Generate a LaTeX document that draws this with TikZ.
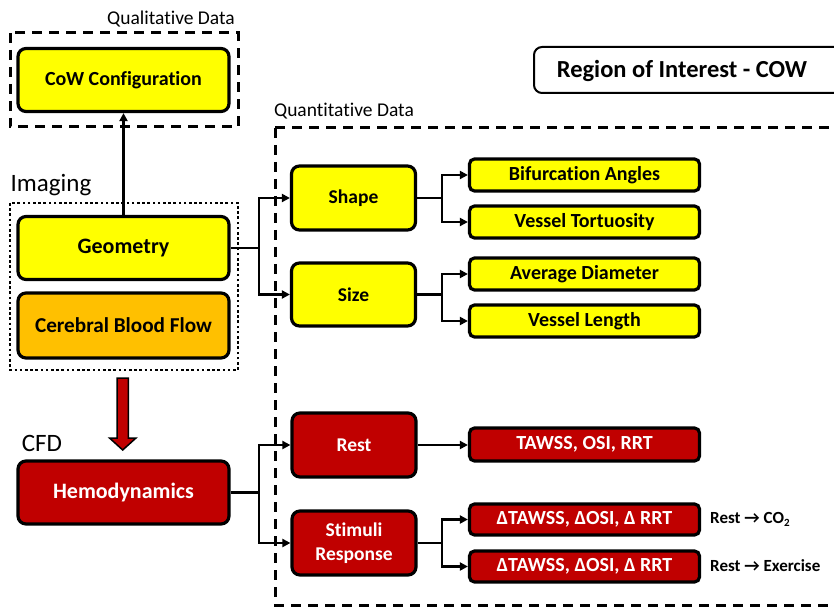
\documentclass[tikz,border=0pt]{standalone}
\usepackage{fontspec}
\setmainfont{Carlito}[Ligatures=NoCommon]
\usetikzlibrary{arrows.meta}
\definecolor{cyel}{HTML}{FFFF00}
\definecolor{corg}{HTML}{FFC000}
\definecolor{cred}{HTML}{C00000}
\newcommand{\fs}[1]{\fontsize{#1}{#1}\selectfont}
\begin{document}
\begin{tikzpicture}[x=1pt,y=-1pt,
  box/.style={draw=black, line width=3.2pt, rounded corners=8pt, align=center, inner sep=0pt,
    font=\fs{22}\bfseries},
  bigbox/.style={box, minimum width=211pt, minimum height=63pt},
  midbox/.style={box, minimum width=124pt, minimum height=64pt, font=\fs{19.5}\bfseries},
  smallbox/.style={box, rounded corners=5pt, minimum width=230pt, minimum height=32pt, font=\fs{20}\bfseries},
  yel/.style={fill=cyel},
  org/.style={fill=corg},
  red/.style={fill=cred, text=white},
  lbl/.style={font=\fs{19.5}, inner sep=0pt},
  biglbl/.style={font=\fs{25}, inner sep=0pt},
  note/.style={font=\fs{17}\bfseries, inner sep=0pt, anchor=west},
  dashbox/.style={draw=black, line width=3pt, dash pattern=on 10pt off 7pt},
  dotbox/.style={draw=black, line width=2.8pt, dash pattern=on 2.6pt off 2.6pt},
  conn/.style={draw=black, line width=2.8pt, -{Triangle[length=8pt,width=8pt]}},
  seg/.style={draw=black, line width=2.8pt}
]
\useasboundingbox (0,0) rectangle (834,609);

% grouping frames
\draw[dashbox] (10,33) rectangle (238,127);
\draw[dotbox] (10,203) rectangle (238,370);
\draw[dashbox] (275,128) -- (850,128);
\draw[dashbox] (275,128) -- (275,605) -- (850,605);

% labels
\node[lbl] (qual) at (171,19) {Qualitative Data};
\node[lbl] (quant) at (344,111) {Quantitative Data};
\node[biglbl] (imaging) at (51,185) {Imaging};
\node[biglbl] (cfd) at (42,443) {CFD};

% region of interest
\node[draw=black, line width=2pt, rounded corners=8pt, fill=white, minimum width=320pt, minimum height=46pt,
      anchor=west, inner sep=0pt] (roi) at (533,70) {};
\node[font=\fs{24.5}\bfseries, inner sep=0pt] (roitext) at (682,71) {Region of Interest - COW};

% left column
\node[bigbox, yel, font=\fs{20}\bfseries] (cow) at (123.5,80) {CoW Configuration};
\node[bigbox, yel] (geo) at (123.5,248) {Geometry};
\node[bigbox, org, minimum height=65pt, font=\fs{21.2}\bfseries] (cbf) at (123.5,325.5) {Cerebral Blood Flow};
\node[bigbox, red] (hemo) at (123.5,492.5) {Hemodynamics};

% middle column
\node[midbox, yel] (shape) at (353.5,198) {Shape};
\node[midbox, yel, minimum height=63pt] (size) at (353.5,294.5) {Size};
\node[midbox, red] (rest) at (354,445) {Rest};
\node[midbox, red] (stim) at (354,543) {Stimuli\\[4pt]Response};

% right column
\node[smallbox, yel] (bif) at (584.5,175) {Bifurcation Angles};
\node[smallbox, yel] (tort) at (584.5,222) {Vessel Tortuosity};
\node[smallbox, yel] (diam) at (584.5,274) {Average Diameter};
\node[smallbox, yel] (len) at (584.5,321) {Vessel Length};
\node[smallbox, red, minimum height=33pt] (tawss) at (584.5,444.5) {TAWSS, OSI, RRT};
\node[smallbox, red, minimum height=31pt] (d1) at (584.5,519.5) {ΔTAWSS, ΔOSI, Δ RRT};
\node[smallbox, red, minimum height=31pt] (d2) at (584.5,566.5) {ΔTAWSS, ΔOSI, Δ RRT};

% notes
\node[note] (n1) at (710,519) {Rest → CO\raisebox{-3pt}{\fs{11}2}};
\node[note] (n2) at (710,566) {Rest → Exercise};

% red block arrow
\draw[fill=cred, draw=black, line width=1.5pt]
  (117,378) -- (128.3,378) -- (128.3,438) -- (136,438) -- (122.7,450) -- (109.5,438) -- (117,438) -- cycle;

% connectors
\draw[conn] (geo.north) -- (cow.south);

\coordinate (jg) at (259,248);
\draw[seg] (geo.east) -- (jg);
\draw[conn] (jg) |- (shape.west);
\draw[conn] (jg) |- (size.west);

\coordinate (js) at (442,198);
\draw[seg] (shape.east) -- (js);
\draw[conn] (js) |- (bif.west);
\draw[conn] (js) |- (tort.west);

\coordinate (jz) at (442,294.5);
\draw[seg] (size.east) -- (jz);
\draw[conn] (jz) |- (diam.west);
\draw[conn] (jz) |- (len.west);

\coordinate (jh) at (259,492.5);
\draw[seg] (hemo.east) -- (jh);
\draw[conn] (jh) |- (rest.west);
\draw[conn] (jh) |- (stim.west);

\draw[conn] (rest.east) -- (rest.east -| tawss.west);

\coordinate (jr) at (442,543);
\draw[seg] (stim.east) -- (jr);
\draw[conn] (jr) |- (d1.west);
\draw[conn] (jr) |- (d2.west);
\end{tikzpicture}
\end{document}
